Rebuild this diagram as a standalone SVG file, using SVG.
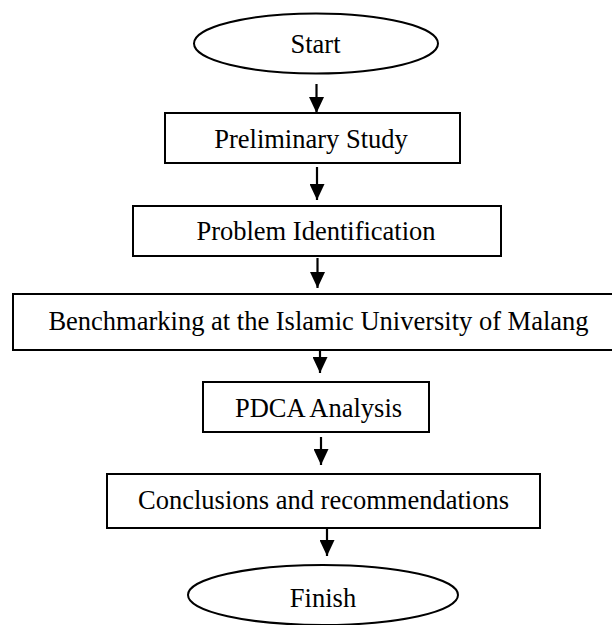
<svg xmlns="http://www.w3.org/2000/svg" width="612" height="625" viewBox="0 0 612 625">
  <style>
    .shape { fill: #ffffff; stroke: #000000; stroke-width: 2; }
    .label { font-family: "Liberation Serif", "Times New Roman", serif; font-size: 26.5px; fill: #000000; text-anchor: middle; }
    .conn { stroke: #000000; stroke-width: 2.2; fill: none; marker-end: url(#arrow); }
  </style>
  <defs>
    <marker id="arrow" viewBox="0 0 16 15" refX="16" refY="7.5" markerWidth="16" markerHeight="15" markerUnits="userSpaceOnUse" orient="auto">
      <path d="M0,0 L16,7.5 L0,15 z" fill="#000000"/>
    </marker>
  </defs>
  <rect width="612" height="625" fill="#ffffff"/>

  <g id="connectors">
    <line class="conn" x1="316.5" y1="84" x2="316.5" y2="113"/>
    <line class="conn" x1="317" y1="167" x2="317" y2="200"/>
    <line class="conn" x1="317.5" y1="258" x2="317.5" y2="288"/>
    <line class="conn" x1="320" y1="345" x2="320" y2="373"/>
    <line class="conn" x1="321" y1="437" x2="321" y2="465"/>
    <line class="conn" x1="327" y1="528" x2="327" y2="556"/>
  </g>

  <g id="start">
    <ellipse class="shape" cx="316" cy="43.5" rx="122" ry="30"/>
    <text class="label" x="315.5" y="53">Start</text>
  </g>

  <g id="preliminary-study">
    <rect class="shape" x="165" y="113" width="295" height="50"/>
    <text class="label" x="311" y="148">Preliminary Study</text>
  </g>

  <g id="problem-identification">
    <rect class="shape" x="133" y="206" width="368" height="50"/>
    <text class="label" x="316" y="240">Problem Identification</text>
  </g>

  <g id="benchmarking">
    <rect class="shape" x="13" y="294" width="602" height="56"/>
    <text class="label" x="318.5" y="330">Benchmarking at the Islamic University of Malang</text>
  </g>

  <g id="pdca-analysis">
    <rect class="shape" x="203" y="382" width="226" height="50"/>
    <text class="label" x="318.5" y="417">PDCA Analysis</text>
  </g>

  <g id="conclusions">
    <rect class="shape" x="107" y="474" width="433" height="54"/>
    <text class="label" x="323.5" y="509">Conclusions and recommendations</text>
  </g>

  <g id="finish">
    <ellipse class="shape" cx="323" cy="595" rx="135" ry="30"/>
    <text class="label" x="323" y="607">Finish</text>
  </g>
</svg>
